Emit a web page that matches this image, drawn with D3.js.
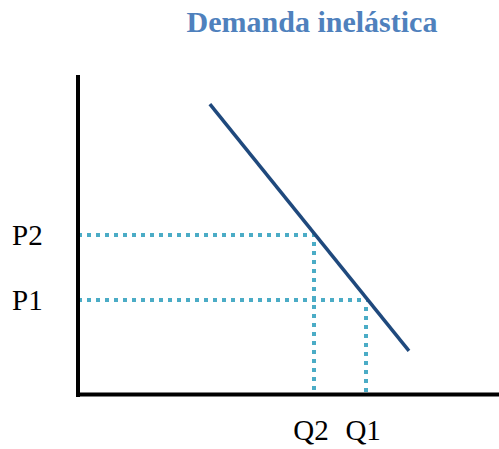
<!DOCTYPE html>
<html>
<head>
<meta charset="utf-8">
<script src="https://cdn.jsdelivr.net/npm/d3@7"></script>
<style>
html,body{margin:0;padding:0;background:#fff;}
svg{display:block;}
</style>
</head>
<body>
<svg id="chart" width="499" height="449"></svg>
<script>
const title = "Demanda inelástica";
const demandQ = [3.14, 7.88];
const demandP = [9.09, 1.35];
const priceLabels = ["P2", "P1"];
const priceValues = [4.98, 2.95];
const qtyLabels = ["Q2", "Q1"];
const qtyValues = [5.62, 6.86];

const svg = d3.select("#chart");
const x = d3.scaleLinear().domain([0, 10]).range([78, 498]);
const y = d3.scaleLinear().domain([0, 10]).range([394, 75]);
const snap = v => Math.round(v);

const serif = "'Liberation Serif','Times New Roman',serif";

svg.append("text")
  .attr("x", 312).attr("y", 32)
  .attr("text-anchor", "middle")
  .attr("font-family", serif).attr("font-weight", "bold")
  .attr("font-size", 30).attr("fill", "#4f81bd")
  .text(title);

// dotted guides
const dot = "#4bacc6";
priceValues.forEach((p, i) => {
  const q = qtyValues[i];
  svg.append("line")
    .attr("x1", x(0)).attr("x2", snap(x(q)) + 2)
    .attr("y1", snap(y(p))).attr("y2", snap(y(p)))
    .attr("stroke", dot).attr("stroke-width", 4).attr("stroke-dasharray", "4,5")
    .attr("shape-rendering", "crispEdges");
  svg.append("line")
    .attr("x1", snap(x(q))).attr("x2", snap(x(q)))
    .attr("y1", snap(y(p)) + 7).attr("y2", y(0))
    .attr("stroke", dot).attr("stroke-width", 4).attr("stroke-dasharray", "4,5")
    .attr("shape-rendering", "crispEdges");
});

// axes
svg.append("line")
  .attr("x1", x(0)).attr("x2", x(0))
  .attr("y1", y(10)).attr("y2", y(0) + 3)
  .attr("stroke", "#000").attr("stroke-width", 4);
svg.append("line")
  .attr("x1", x(0) - 2).attr("x2", 499)
  .attr("y1", y(0) + 0.5).attr("y2", y(0) + 0.5)
  .attr("stroke", "#000").attr("stroke-width", 4);

// demand line
const line = d3.line().x(d => x(d[0])).y(d => y(d[1]));
svg.append("path")
  .attr("d", line(d3.zip(demandQ, demandP)))
  .attr("fill", "none").attr("stroke", "#1f497d").attr("stroke-width", 3.5);

// labels
priceLabels.forEach((t, i) => {
  svg.append("text")
    .attr("x", 12).attr("y", y(priceValues[i]) + 10)
    .attr("font-family", serif).attr("font-size", 29).attr("fill", "#000")
    .text(t);
});
qtyLabels.forEach((t, i) => {
  svg.append("text")
    .attr("x", x(qtyValues[i]) - 3).attr("y", 440)
    .attr("text-anchor", "middle")
    .attr("font-family", serif).attr("font-size", 29).attr("fill", "#000")
    .text(t);
});
</script>
</body>
</html>
